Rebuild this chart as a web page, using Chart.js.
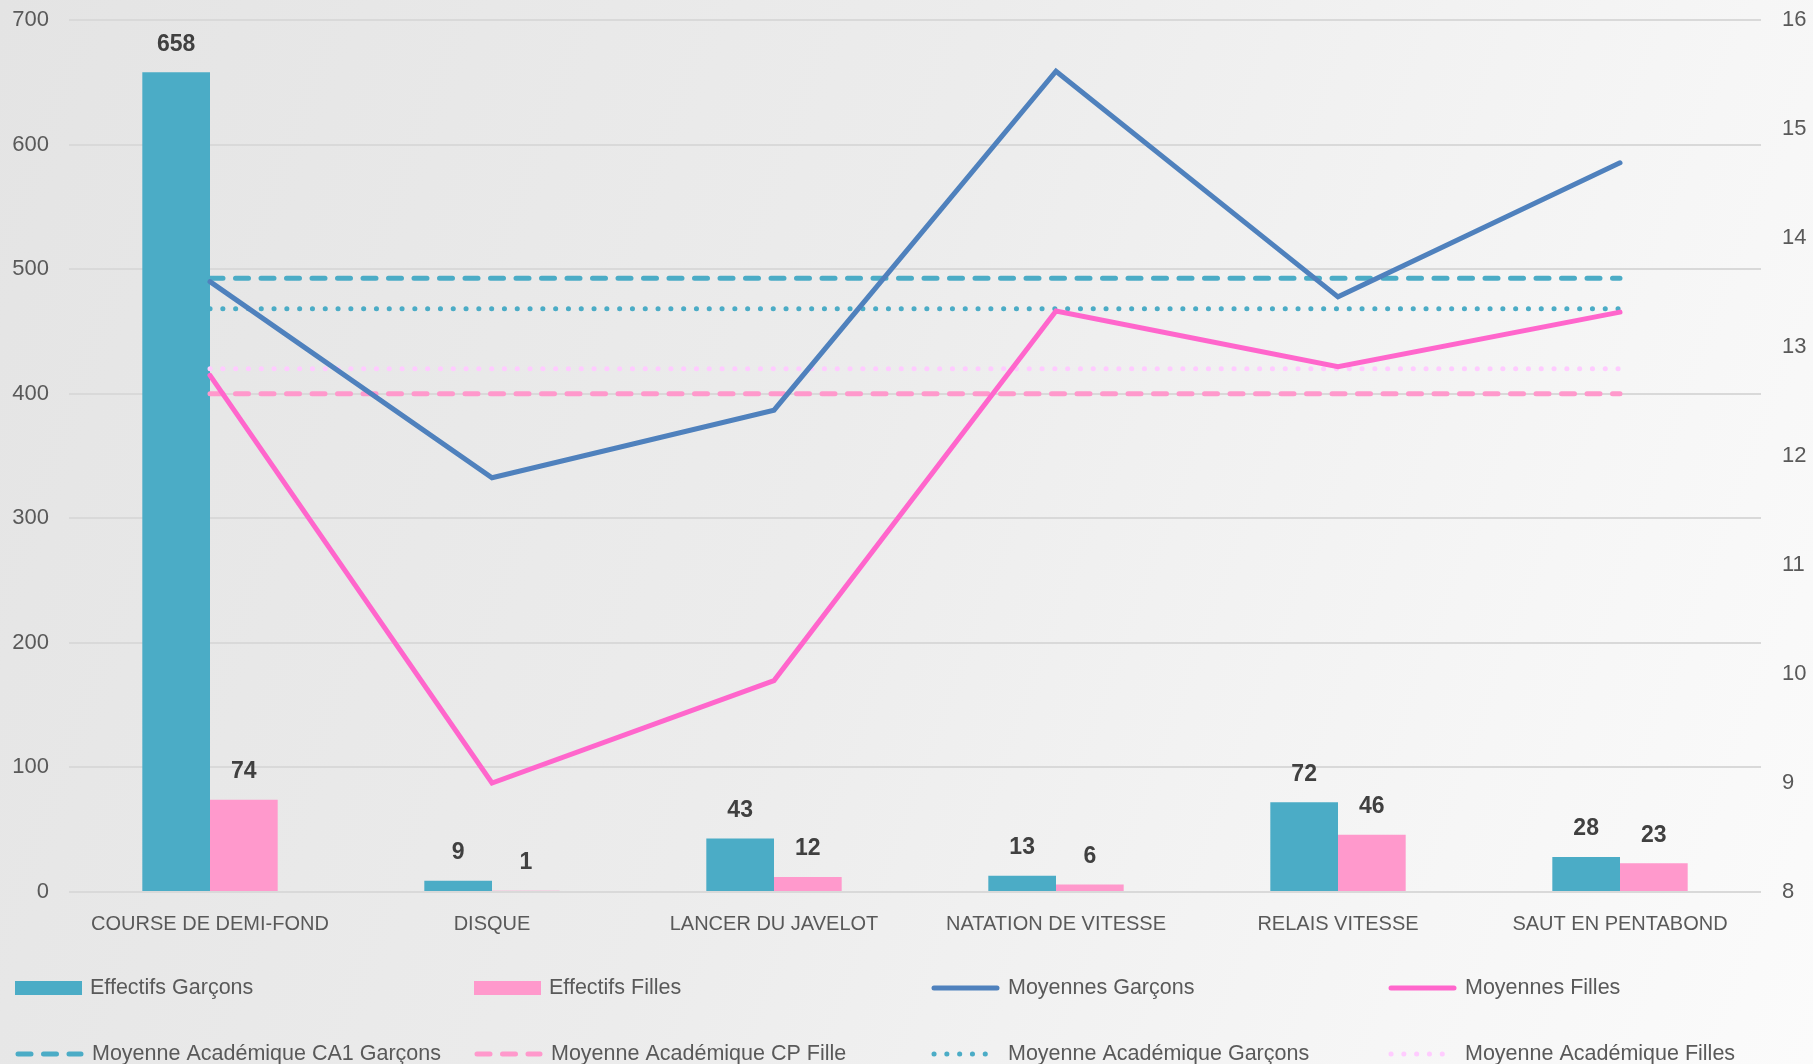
<!DOCTYPE html>
<html lang="fr">
<head>
<meta charset="utf-8">
<title>Effectifs et moyennes</title>
<script src="https://cdn.jsdelivr.net/npm/chart.js@4/dist/chart.umd.min.js"></script>
<style>
  html, body { margin: 0; padding: 0; }
  body {
    width: 1813px; height: 1064px; overflow: hidden;
    background: linear-gradient(110deg, #e4e4e4 0%, #ececec 45%, #f6f6f6 80%, #fbfbfb 100%);
  }
  canvas { display: block; }
</style>
</head>
<body>
<canvas id="graphique" width="1813" height="1064"></canvas>
<script>
// Données
const categories = ['COURSE DE DEMI-FOND', 'DISQUE', 'LANCER DU JAVELOT', 'NATATION DE VITESSE', 'RELAIS VITESSE', 'SAUT EN PENTABOND'];
const effectifsGarcons = [658, 9, 43, 13, 72, 28];
const effectifsFilles = [74, 1, 12, 6, 46, 23];
const moyennesGarcons = [13.60, 11.80, 12.42, 15.53, 13.46, 14.69];
const moyennesFilles = [12.74, 9.00, 9.94, 13.33, 12.82, 13.32];
const moyAcadCA1Garcons = [13.63, 13.63, 13.63, 13.63, 13.63, 13.63];
const moyAcadCPFille = [12.57, 12.57, 12.57, 12.57, 12.57, 12.57];
const moyAcadGarcons = [13.35, 13.35, 13.35, 13.35, 13.35, 13.35];
const moyAcadFilles = [12.80, 12.80, 12.80, 12.80, 12.80, 12.80];
const ticksGauche = [0, 100, 200, 300, 400, 500, 600, 700];
const ticksDroite = [8, 9, 10, 11, 12, 13, 14, 15, 16];

const POLICE = "'Liberation Sans', Arial, sans-serif";
const GRIS_TEXTE = '#595959';

/**
 * Valeurs au-dessus des barres
 */
const etiquettesBarres = {
    id: 'etiquettesBarres',
    afterDatasetsDraw(chart) {
        const ctx = chart.ctx;
        ctx.save();
        ctx.font = 'bold 23px ' + POLICE;
        ctx.fillStyle = '#404040';
        ctx.textAlign = 'center';
        ctx.textBaseline = 'middle';
        chart.data.datasets.forEach((ds, i) => {
            if (ds.type !== 'bar') return;
            chart.getDatasetMeta(i).data.forEach((el, j) => {
                ctx.fillText(String(ds.data[j]), el.x, el.y - 28);
            });
        });
        ctx.restore();
    }
};

/**
 * Légende en grille 4 colonnes x 2 lignes
 */
const legendeGrille = {
    id: 'legendeGrille',
    afterDraw(chart) {
        const ctx = chart.ctx;
        const colonnes = [15, 474, 931, 1388];
        const lignes = [988, 1054];
        ctx.save();
        ctx.font = '21.5px ' + POLICE;
        ctx.textBaseline = 'middle';
        chart.data.datasets.forEach((ds, i) => {
            const x = colonnes[i % 4];
            const y = lignes[Math.floor(i / 4)];
            let largeur;
            if (ds.type === 'bar') {
                largeur = 67;
                ctx.fillStyle = ds.backgroundColor;
                ctx.fillRect(x, y - 7, largeur, 14);
            } else {
                largeur = 69;
                ctx.strokeStyle = ds.borderColor;
                ctx.lineWidth = ds.borderWidth;
                ctx.lineCap = 'round';
                ctx.setLineDash(ds.borderDash || []);
                ctx.beginPath();
                ctx.moveTo(x + 3, y);
                ctx.lineTo(x + largeur - 3, y);
                ctx.stroke();
                ctx.setLineDash([]);
            }
            ctx.fillStyle = GRIS_TEXTE;
            ctx.fillText(ds.label, x + largeur + 8, y);
        });
        ctx.restore();
    }
};

function ligne(label, data, couleur, largeur, tirets) {
    return {
        type: 'line',
        label: label,
        data: data,
        yAxisID: 'y1',
        borderColor: couleur,
        backgroundColor: couleur,
        borderWidth: largeur,
        borderDash: tirets,
        borderCapStyle: 'round',
        borderJoinStyle: 'miter',
        pointRadius: 0,
        tension: 0,
        fill: false,
        order: 1
    };
}

// les axes verticaux ne doivent pas décaler la zone de tracé
function ajusterAxe(largeur) {
    return function(scale) {
        scale.width = largeur;
        scale.paddingTop = 0;
        scale.paddingBottom = 0;
    };
}

document.addEventListener('DOMContentLoaded', function() {
    const ctx = document.getElementById('graphique').getContext('2d');

    new Chart(ctx, {
        type: 'bar',
        data: {
            labels: categories,
            datasets: [
                { type: 'bar', label: 'Effectifs Garçons', data: effectifsGarcons, backgroundColor: '#4BACC6', yAxisID: 'y', order: 2 },
                { type: 'bar', label: 'Effectifs Filles', data: effectifsFilles, backgroundColor: '#FF99CC', yAxisID: 'y', order: 2 },
                ligne('Moyennes Garçons', moyennesGarcons, '#4F81BD', 5, []),
                ligne('Moyennes Filles', moyennesFilles, '#FF66CC', 5, []),
                ligne('Moyenne Académique CA1 Garçons', moyAcadCA1Garcons, '#4BACC6', 5, [13, 12.5]),
                ligne('Moyenne Académique CP Fille', moyAcadCPFille, '#FF99CC', 5, [13, 12.5]),
                ligne('Moyenne Académique Garçons', moyAcadGarcons, '#4BACC6', 5, [0.1, 12.7]),
                ligne('Moyenne Académique Filles', moyAcadFilles, '#FFCCFF', 5, [0.1, 12.7])
            ]
        },
        options: {
            responsive: false,
            animation: false,
            layout: { padding: { top: 20, left: 0, right: 0, bottom: 0 } },
            datasets: {
                bar: { categoryPercentage: 0.48, barPercentage: 1.0 }
            },
            scales: {
                x: {
                    grid: { display: false, drawTicks: false },
                    border: { display: false },
                    ticks: {
                        color: GRIS_TEXTE,
                        font: { family: POLICE, size: 20 },
                        padding: 20,
                        maxRotation: 0,
                        autoSkip: false
                    },
                    afterFit(scale) { scale.height = 172; }
                },
                y: {
                    position: 'left',
                    min: 0,
                    max: 700,
                    afterBuildTicks(scale) { scale.ticks = ticksGauche.map(v => ({ value: v })); },
                    grid: { color: '#d9d9d9', lineWidth: 2, drawTicks: false },
                    border: { display: false },
                    ticks: {
                        color: GRIS_TEXTE,
                        font: { family: POLICE, size: 22 },
                        padding: 20
                    },
                    afterFit: ajusterAxe(69)
                },
                y1: {
                    position: 'right',
                    min: 8,
                    max: 16,
                    afterBuildTicks(scale) { scale.ticks = ticksDroite.map(v => ({ value: v })); },
                    grid: { display: false, drawTicks: false },
                    border: { display: false },
                    ticks: {
                        color: GRIS_TEXTE,
                        font: { family: POLICE, size: 22 },
                        padding: 21
                    },
                    afterFit: ajusterAxe(52)
                }
            },
            plugins: {
                legend: { display: false },
                tooltip: { enabled: false }
            }
        },
        plugins: [etiquettesBarres, legendeGrille]
    });
});
</script>
</body>
</html>
